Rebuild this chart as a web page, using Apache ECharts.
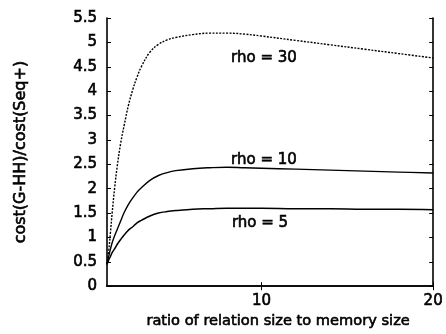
<!DOCTYPE html>
<html>
<head>
<meta charset="utf-8">
<script src="https://cdn.jsdelivr.net/npm/echarts@6/dist/echarts.min.js"></script>
<style>
  html, body { margin: 0; padding: 0; background: #fff; }
  #chart { width: 446px; height: 334px; }
</style>
</head>
<body>
<div id="chart"></div>
<script>
// ratio of relation size to memory size
var ratios = [1, 1.1, 1.2, 1.3, 1.45, 1.6, 1.8, 2, 2.25, 2.5, 2.75, 3, 3.5, 4, 4.5, 5, 6, 7, 8, 9, 10, 12, 14, 16, 18, 20];
// cost(G-HH)/cost(Seq+) for each rho
var rho30 = [0.45, 0.72, 1.1, 1.5, 2.03, 2.47, 2.94, 3.3, 3.71, 4.03, 4.29, 4.5, 4.8, 4.96, 5.05, 5.1, 5.16, 5.19, 5.19, 5.17, 5.13, 5.04, 4.95, 4.86, 4.77, 4.68];
var rho10 = [0.45, 0.61, 0.76, 0.89, 1.04, 1.17, 1.34, 1.51, 1.68, 1.81, 1.93, 2.02, 2.17, 2.27, 2.33, 2.37, 2.41, 2.43, 2.44, 2.43, 2.42, 2.4, 2.38, 2.36, 2.34, 2.32];
var rho5 = [0.45, 0.54, 0.61, 0.69, 0.77, 0.86, 0.96, 1.05, 1.15, 1.22, 1.3, 1.35, 1.44, 1.5, 1.53, 1.55, 1.58, 1.59, 1.6, 1.6, 1.6, 1.59, 1.59, 1.58, 1.58, 1.57];
var xTicks = [10, 20];
var curveLabels = ['rho = 30', 'rho = 10', 'rho = 5'];

var FONT = '"DejaVu Sans", sans-serif';
// 扫描件的字比常规体略粗，用细描边加粗
var txt = { fontFamily: FONT, color: '#000', textBorderColor: '#000', textBorderWidth: 0.6 };

function pairs(ys) {
    var out = [];
    for (var i = 0; i < ratios.length; i++) out.push([ratios[i], ys[i]]);
    return out;
}

var chart = echarts.init(document.getElementById('chart'));

var xBase = {
    type: 'value', min: 1, max: 20,
    axisLine: { show: true, lineStyle: { color: '#000', width: 1.6 } },
    axisTick: { show: true, inside: true, length: 4, customValues: xTicks, lineStyle: { color: '#000' } },
    splitLine: { show: false }
};
var yBase = {
    type: 'value', min: 0, max: 5.5, interval: 0.5,
    axisLine: { show: true, lineStyle: { color: '#000', width: 1.6 } },
    axisTick: { show: true, inside: true, length: 4, lineStyle: { color: '#000' } },
    splitLine: { show: false }
};

var option = {
    animation: false,
    backgroundColor: '#fff',
    grid: { left: 107, right: 12, top: 18, bottom: 44 },
    xAxis: [
        echarts.util.merge({
            position: 'bottom',
            name: 'ratio of relation size to memory size',
            nameLocation: 'middle', nameGap: 24,
            nameTextStyle: echarts.util.extend({ fontSize: 14.6, padding: [0, 0, 0, 16] }, txt),
            axisLabel: echarts.util.extend({ show: true, customValues: xTicks, margin: 7, fontSize: 15 }, txt)
        }, xBase, true),
        echarts.util.merge({ position: 'top', axisLabel: { show: false } }, xBase, true)
    ],
    yAxis: [
        echarts.util.merge({
            position: 'left',
            name: 'cost(G-HH)/cost(Seq+)',
            nameLocation: 'middle', nameGap: 78, nameRotate: 90,
            nameTextStyle: echarts.util.extend({ fontSize: 16 }, txt),
            axisLabel: echarts.util.extend({ show: true, margin: 10, fontSize: 15 }, txt)
        }, yBase, true),
        echarts.util.merge({ position: 'right', axisLabel: { show: false } }, yBase, true)
    ],
    series: [
        {
            name: curveLabels[0], type: 'line', smooth: 0.4, showSymbol: false,
            data: pairs(rho30),
            lineStyle: { color: '#000', width: 1.4, type: [2, 1.4] }
        },
        {
            name: curveLabels[1], type: 'line', smooth: 0.4, showSymbol: false,
            data: pairs(rho10),
            lineStyle: { color: '#000', width: 1.4 }
        },
        {
            name: curveLabels[2], type: 'line', smooth: 0.4, showSymbol: false,
            data: pairs(rho5),
            lineStyle: { color: '#000', width: 1.5 }
        }
    ],
    graphic: [
        { type: 'text', x: 264, y: 58, style: { text: curveLabels[0], font: '15px ' + FONT, fill: '#000', stroke: '#000', lineWidth: 0.6, align: 'center', verticalAlign: 'middle' } },
        { type: 'text', x: 264, y: 160, style: { text: curveLabels[1], font: '15px ' + FONT, fill: '#000', stroke: '#000', lineWidth: 0.6, align: 'center', verticalAlign: 'middle' } },
        { type: 'text', x: 260, y: 223, style: { text: curveLabels[2], font: '15px ' + FONT, fill: '#000', stroke: '#000', lineWidth: 0.6, align: 'center', verticalAlign: 'middle' } }
    ]
};

chart.setOption(option);
</script>
</body>
</html>
